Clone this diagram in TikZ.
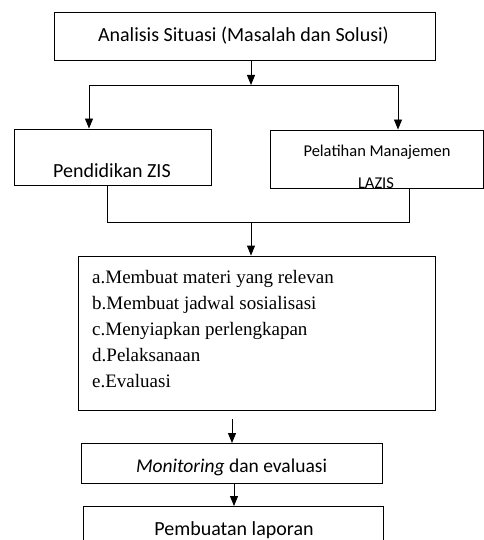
\documentclass[tikz,border=0pt]{standalone}
\usepackage{fontspec}
\setmainfont{Liberation Serif}
\newfontfamily\carl{Carlito}
\usetikzlibrary{arrows.meta}
\tikzset{
  box/.style={draw, line width=0.9pt, inner sep=0pt},
  ln/.style={line width=0.9pt},
  arr/.style={line width=0.9pt, -{Triangle[width=8pt,length=10pt]}},
  stxt/.style={inner sep=0pt, anchor=base},
  serif/.style={inner sep=0pt, anchor=base west, font=\fontsize{19}{26}\selectfont},
}
\begin{document}
\begin{tikzpicture}[x=1pt,y=-1pt]
\useasboundingbox (0,0) rectangle (483,540);
\fill[white] (0,0) rectangle (483,540);
% boxes
\node[box, minimum width=381pt, minimum height=48pt] (b1) at (244.5,36) {};
\node[stxt, font=\carl\fontsize{20}{22}\selectfont] (t1) at (243.5,42) {Analisis Situasi (Masalah dan Solusi)};
\node[box, minimum width=197pt, minimum height=56pt] (b2) at (112.5,157) {};
\node[stxt, font=\carl\fontsize{20}{22}\selectfont] (t2) at (112,177) {Pendidikan ZIS};
\node[box, minimum width=213pt, minimum height=58pt] (b3) at (376.5,159) {};
\begin{scope}
\clip (b3.north west) rectangle (b3.south east);
\node[stxt, font=\carl\fontsize{16.5}{22}\selectfont] (t3a) at (377,157) {Pelatihan Manajemen};
\node[stxt, font=\carl\fontsize{16.5}{22}\selectfont] (t3b) at (376,188.5) {LAZIS};
\end{scope}
\node[box, minimum width=357pt, minimum height=154pt] (b4) at (256.5,333) {};
\node[serif] (l1t) at (92,283) {a.Membuat materi yang relevan};
\node[serif] (l2t) at (92,309) {b.Membuat jadwal sosialisasi};
\node[serif] (l3t) at (92,335) {c.Menyiapkan perlengkapan};
\node[serif] (l4t) at (92,361) {d.Pelaksanaan};
\node[serif] (l5t) at (92,387) {e.Evaluasi};
\node[box, minimum width=301pt, minimum height=40pt] (b5) at (231.5,463.5) {};
\node[stxt, font=\carl\fontsize{19.5}{22}\selectfont] (t5) at (231.5,472) {\textit{Monitoring} dan evaluasi};
\node[box, minimum width=300pt, minimum height=44pt, anchor=north] (b6) at (233,506) {};
\node[stxt, font=\carl\fontsize{20}{22}\selectfont] (t6) at (234,535) {Pembuatan laporan};
% connectors
\coordinate (j1) at (251,85);
\coordinate (l1) at (89,85);
\coordinate (r1) at (398,85);
\draw[arr] (j1 |- b1.south) -- (j1);
\draw[ln] (l1) -- (r1);
\draw[arr] (l1) -- (l1 |- b2.north);
\draw[arr] (r1) -- (r1 |- b3.north);
\coordinate (m1) at (107,222);
\coordinate (m2) at (409,222);
\coordinate (mj) at (251,222);
\draw[ln] (m1 |- b2.south) -- (m1) -- (m2) -- (m2 |- b3.south);
\draw[arr] (mj) -- (mj |- b4.north);
\coordinate (a1) at (232,419);
\draw[arr] (a1) -- (a1 |- b5.north);
\coordinate (a2) at (234,483);
\draw[arr] (a2 |- b5.south) -- (a2 |- b6.north);
\end{tikzpicture}
\end{document}
